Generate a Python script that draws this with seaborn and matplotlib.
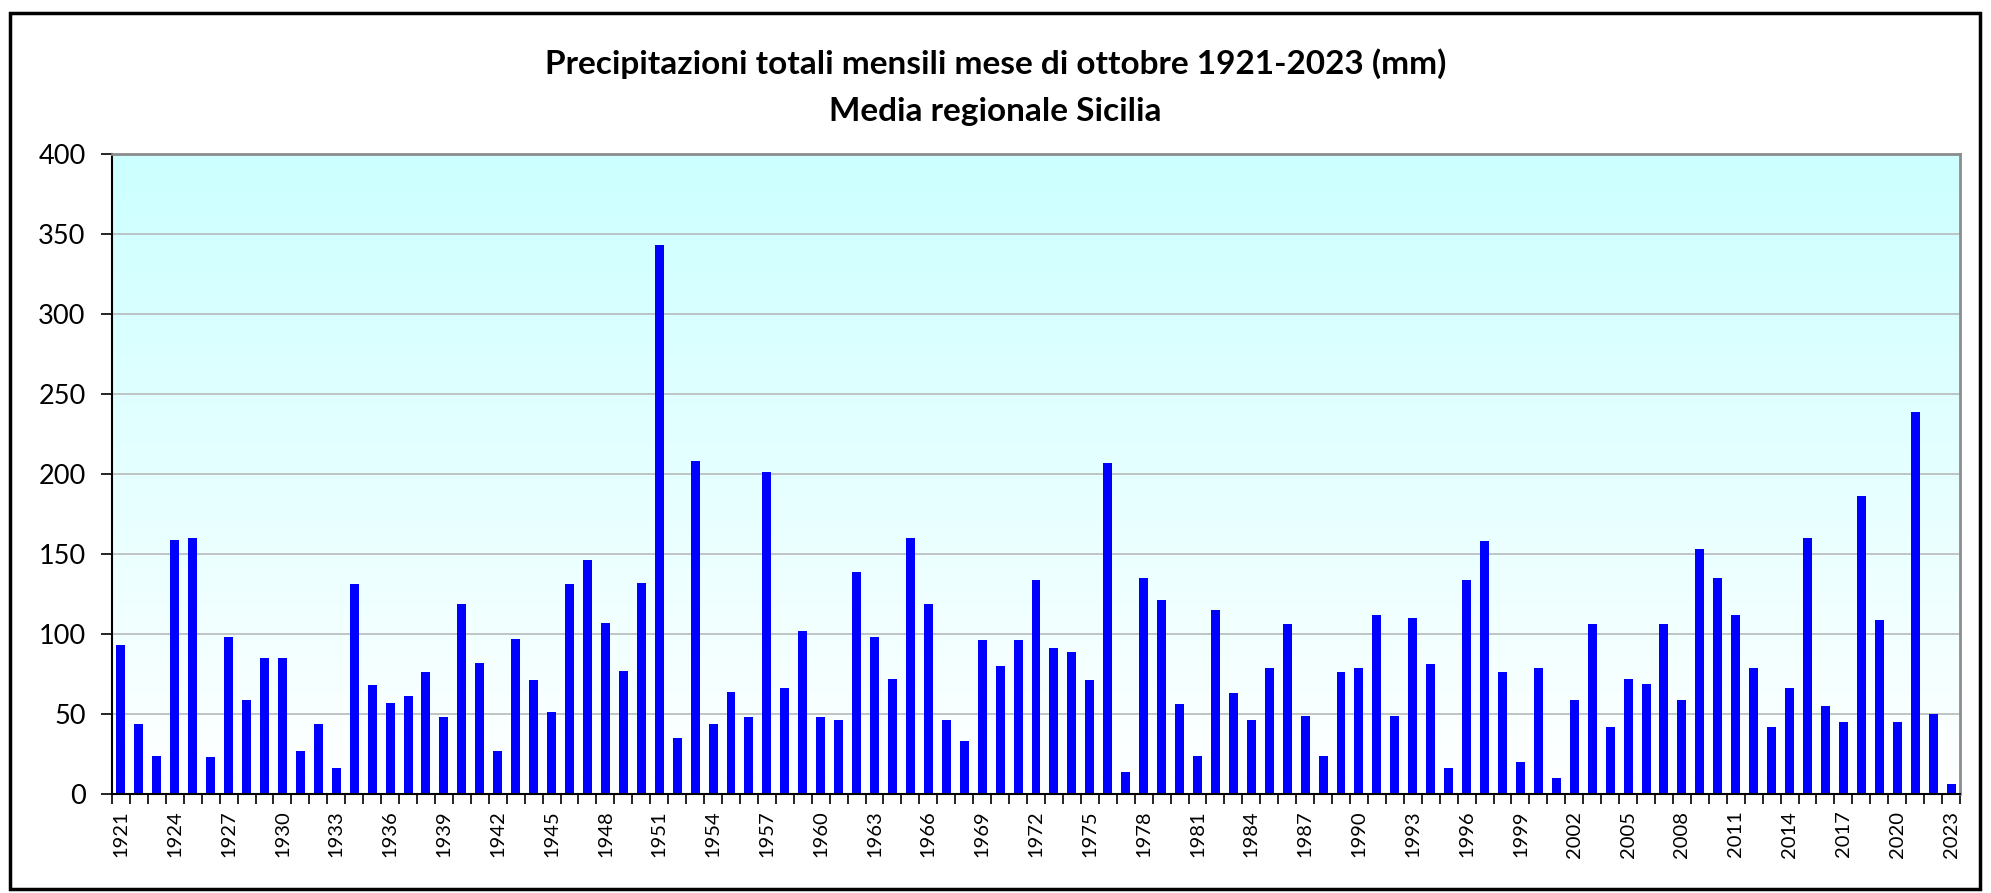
import numpy as np
import pandas as pd
import matplotlib
matplotlib.use("Agg")
import matplotlib.pyplot as plt
import seaborn as sns
from matplotlib.patches import Rectangle
from matplotlib.colors import LinearSegmentedColormap

# ---- data ----
years = list(range(1921, 2024))
precip_mm = [
    93, 44, 24, 159, 160, 23, 98, 59, 85, 85,          # 1921-1930
    27, 44, 16, 131, 68, 57, 61, 76, 48, 119,          # 1931-1940
    82, 27, 97, 71, 51, 131, 146, 107, 77, 132,        # 1941-1950
    343, 35, 208, 44, 64, 48, 201, 66, 102, 48,        # 1951-1960
    46, 139, 98, 72, 160, 119, 46, 33, 96, 80,         # 1961-1970
    96, 134, 91, 89, 71, 207, 14, 135, 121, 56,        # 1971-1980
    24, 115, 63, 46, 79, 106, 49, 24, 76, 79,          # 1981-1990
    112, 49, 110, 81, 16, 134, 158, 76, 20, 79,        # 1991-2000
    10, 59, 106, 42, 72, 69, 106, 59, 153, 135,        # 2001-2010
    112, 79, 42, 66, 160, 55, 45, 186, 109, 45,        # 2011-2020
    239, 50, 6,                                        # 2021-2023
]
title_line1 = "Precipitazioni totali mensili mese di ottobre 1921-2023 (mm)"
title_line2 = "Media regionale Sicilia"
y_ticks = [0, 50, 100, 150, 200, 250, 300, 350, 400]
label_years = years[::3]

df = pd.DataFrame({"year": [str(y) for y in years], "mm": precip_mm})

sns.set_theme(style="white")
plt.rcParams['font.family'] = ['Lato', 'DejaVu Sans']

W, H = 1991, 893
fig = plt.figure(figsize=(W / 100, H / 100), dpi=100)
fig.patch.set_facecolor("white")

left, right, top, bottom = 112, 1960, 154, 794
pos = [left / W, 1 - bottom / H, (right - left) / W, (bottom - top) / H]

# gradient background axes
bg = fig.add_axes(pos, zorder=0)
cmap = LinearSegmentedColormap.from_list("bgc", ["#FFFFFF", "#CCFFFF"])
grad = np.linspace(0, 1, 256).reshape(-1, 1)
bg.imshow(grad, extent=[0, 1, 0, 1], origin="lower", aspect="auto", cmap=cmap)
bg.set_axis_off()

ax = fig.add_axes(pos, zorder=1)
ax.patch.set_alpha(0)
sns.barplot(data=df, x="year", y="mm", color="#0000FF", saturation=1,
            width=0.5, ax=ax, edgecolor="none")

ax.set_xlim(-0.5, len(years) - 0.5)
ax.set_ylim(0, 400)
ax.set_yticks(y_ticks)
ax.set_yticklabels([str(v) for v in y_ticks], fontsize=19.5)
ax.yaxis.grid(True, color="#B4B4B4", linewidth=1.1)
ax.xaxis.grid(False)
ax.set_axisbelow(True)

label_pos = [years.index(y) for y in label_years]
ax.set_xticks(label_pos)
ax.set_xticklabels([str(y) for y in label_years], rotation=90, fontsize=14.5)
ax.set_xticks(np.arange(-0.5, len(years), 1.0), minor=True)
ax.tick_params(axis="x", which="major", length=0, pad=12, colors="black")
ax.tick_params(axis="x", which="minor", length=7, width=1.2, direction="out",
               color="black", bottom=True)
ax.tick_params(axis="y", which="major", length=8, width=1.2, direction="out",
               pad=11, color="black", left=True, labelcolor="black")
ax.set_xlabel("")
ax.set_ylabel("")

for s in ["left", "bottom"]:
    ax.spines[s].set_color("black")
    ax.spines[s].set_linewidth(1.5)
for s in ["top", "right"]:
    ax.spines[s].set_color("#8C8C8C")
    ax.spines[s].set_linewidth(2)

fig.text(0.5, 1 - 64 / H, title_line1, ha="center", va="center",
         fontsize=24, fontweight="bold", color="black")
fig.text(0.5, 1 - 111 / H, title_line2, ha="center", va="center",
         fontsize=24, fontweight="bold", color="black")

fig.patches.append(Rectangle((10 / W, 4 / H), (1980 - 10) / W, (889 - 13) / H,
                             fill=False, edgecolor="black", linewidth=2.5,
                             transform=fig.transFigure, figure=fig))

fig.savefig("out.png", dpi=100)
